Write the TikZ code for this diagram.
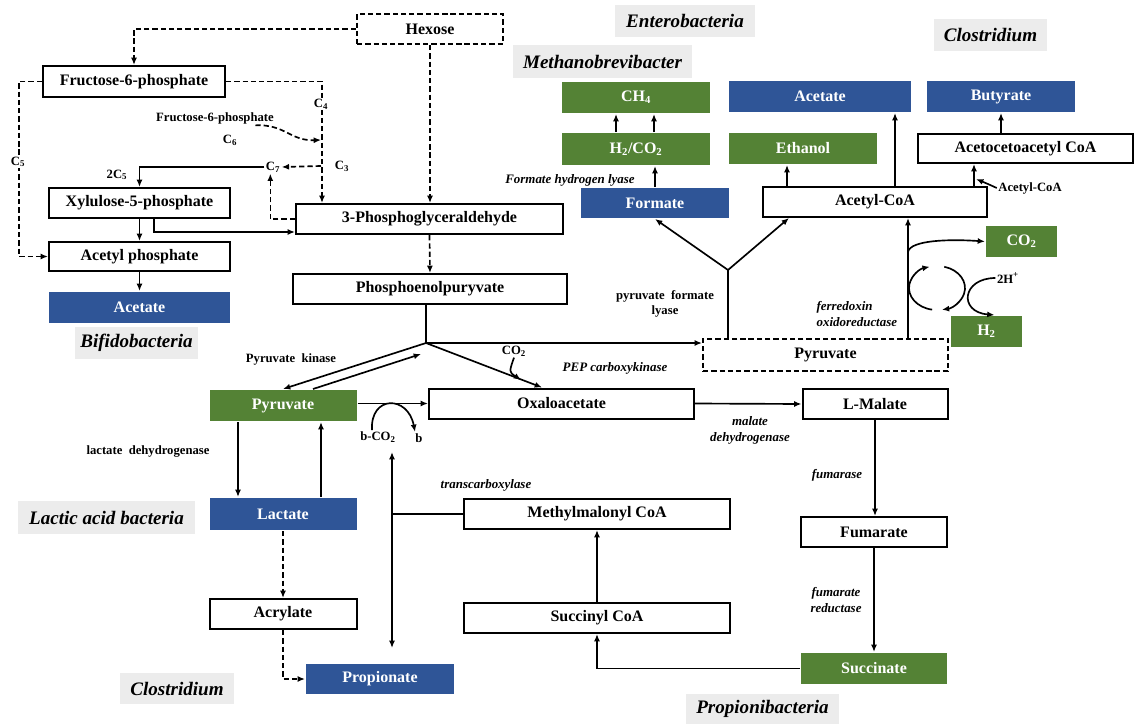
\documentclass[tikz,border=0pt]{standalone}
\usepackage{fontspec}
\setmainfont{Liberation Serif}
\usetikzlibrary{arrows.meta}
\definecolor{gbox}{RGB}{84,130,53}
\definecolor{bbox}{RGB}{47,85,151}
\definecolor{lgray}{RGB}{236,236,236}
\begin{document}
\begin{tikzpicture}[x=0.75pt,y=-0.75pt,
  wh/.style 2 args={minimum width=#1*0.75pt,minimum height=#2*0.75pt},
  box/.style={draw,line width=1.5pt,inner sep=0pt,font=\bfseries\fontsize{12}{14}\selectfont},
  gbx/.style={box,draw=none,fill=gbox,text=white},
  bbx/.style={box,draw=none,fill=bbox,text=white},
  dbx/.style={box,dash pattern=on 4pt off 2.2pt},
  tag/.style={fill=lgray,inner sep=0pt,font=\bfseries\itshape\fontsize{14.3}{16}\selectfont},
  sm/.style={inner sep=1pt,font=\bfseries\fontsize{9.5}{11}\selectfont},
  smi/.style={inner sep=1pt,font=\bfseries\itshape\fontsize{9.7}{12}\selectfont,align=center},
  arr/.style={line width=1.25pt,-{Latex[length=5.5pt,width=4.5pt]}},
  ln/.style={line width=1.25pt},
  dsh/.style={dash pattern=on 4pt off 2.2pt}
]
\useasboundingbox (0,0) rectangle (1135,724);

% ---------- boxes ----------
\node[dbx,wh={146}{30}] (hex) at (430,29) {Hexose};
\node[box,wh={182}{31}] (f6p) at (134,81.5) {Fructose-6-phosphate};
\node[box,wh={181}{30}] (xyl) at (139.5,203) {Xylulose-5-phosphate};
\node[box,wh={181}{29}] (acp) at (139.5,256.5) {Acetyl phosphate};
\node[bbx,wh={181}{31}] (acl) at (139.5,307.5) {Acetate};
\node[tag,wh={123}{32}] (bif) at (136.5,343) {Bifidobacteria};
\node[box,wh={267}{30}] (pga) at (429.5,219) {3-Phosphoglyceraldehyde};
\node[box,wh={274}{30}] (pep) at (430,289) {Phosphoenolpuryvate};
\node[tag,wh={179}{33}] (met) at (602.5,61.5) {Methanobrevibacter};
\node[tag,wh={140}{32}] (ent) at (685,21) {Enterobacteria};
\node[gbx,wh={148}{31}] (ch4) at (636,97.5) {CH\textsubscript{4}};
\node[gbx,wh={148}{32}] (h2co2) at (636,149) {H\textsubscript{2}/CO\textsubscript{2}};
\node[bbx,wh={148}{30}] (form) at (655,203) {Formate};
\node[bbx,wh={182}{31}] (acetR) at (820,96.5) {Acetate};
\node[bbx,wh={148}{31}] (but) at (1001,96.5) {Butyrate};
\node[gbx,wh={148}{31}] (eth) at (803,148.5) {Ethanol};
\node[box,wh={215}{29}] (aaca) at (1025.5,148.5) {Acetocetoacetyl CoA};
\node[box,wh={224}{30}] (acoa) at (875,202) {Acetyl-CoA};
\node[tag,wh={113}{32}] (clt) at (990.5,35) {Clostridium};
\node[gbx,wh={71}{31}] (co2) at (1021.5,241.5) {CO\textsubscript{2}};
\node[gbx,wh={71}{31}] (h2) at (986.5,331.5) {H\textsubscript{2}};
\node[dbx,wh={245}{32}] (pyrd) at (825.5,355) {Pyruvate};
\node[gbx,wh={147}{31}] (pyrg) at (283,405.5) {Pyruvate};
\node[box,wh={265}{30}] (oxa) at (561.5,403.5) {Oxaloacetate};
\node[box,wh={145}{30}] (mal) at (875,404) {L-Malate};
\node[box,wh={146}{30}] (fum) at (874,532) {Fumarate};
\node[gbx,wh={146}{31}] (suc) at (874,668.5) {Succinate};
\node[box,wh={266}{30}] (mmc) at (597,514) {Methylmalonyl CoA};
\node[box,wh={266}{30}] (sca) at (597,618) {Succinyl CoA};
\node[bbx,wh={147}{32}] (lac) at (283,514) {Lactate};
\node[box,wh={147}{30}] (acry) at (283,614) {Acrylate};
\node[bbx,wh={148}{30}] (prop) at (380,679) {Propionate};
\node[tag,wh={177}{33}] (lab) at (106.5,517.5) {Lactic acid bacteria};
\node[tag,wh={114}{31}] (clb) at (177,688.5) {Clostridium};
\node[tag,wh={153}{30}] (ppb) at (762.5,709) {Propionibacteria};

% ---------- small labels ----------
\node[sm] (f6ps) at (215,118) {Fructose-6-phosphate};
\node[sm] (c6) at (230,140) {C\textsubscript{6}};
\node[sm] (c7) at (273,167) {C\textsubscript{7}};
\node[sm] (c3) at (342,166) {C\textsubscript{3}};
\node[sm] (c25) at (117,175) {2C\textsubscript{5}};

% ---------- hexose / pentose part ----------
\coordinate (xr) at (322,0);
\coordinate (xl) at (19,0);
\draw[arr,dsh] (hex.west) -| (f6p.north);
\draw[arr,dsh] (hex.south) -- (hex.south |- pga.north);
\draw[arr,dsh] (f6p.east) -| (pga.north -| xr);
\draw[arr,dsh] (f6p.west) -| (xl |- acp.west) -- (acp.west);
\node[sm,fill=white] (c4) at (321,104) {C\textsubscript{4}};
\node[sm,fill=white] (c5) at (18,162) {C\textsubscript{5}};
\coordinate (c6t) at (321,140);
\draw[arr,dsh] ([xshift=-15pt]f6ps.south east) .. controls (285,124) and (290,141) .. (c6t);
\coordinate (c3t) at (321,166);
\draw[arr,dsh] (c3t) -- (c7.east);
\draw[arr] (c7.west) -| (xyl.north);
\draw[arr,dsh] (pga.west) -| ([xshift=-2pt]c7.south);
\draw[arr] (xyl.south) -- (acp.north);
\coordinate (xb) at (154,0);
\draw[arr] (xyl.south -| xb) |- ([yshift=2.25pt]pga.south west);
\draw[arr] (acp.south) -- (acl.north);
\draw[arr,dsh] (pga.south) -- (pep.north);

% ---------- PEP junction ----------
\coordinate (jn) at (426,343);
\draw[ln] (pep.south -| jn) -- (jn);
\draw[arr] (jn) -- (jn -| pyrd.west);
\draw[arr] (jn) -- (pyrg.north);
\coordinate (pk) at (421,354);
\draw[arr] ([xshift=22.5pt]pyrg.north) -- (pk);
\draw[arr] (jn) -- ([xshift=-14.6pt]oxa.north);
\node[sm] (co2s) at (514,351) {CO\textsubscript{2}};
\coordinate (co2e) at (521,380);
\draw[arr] (co2s.south) .. controls (509,372) .. (co2e);
\node[sm] at (291,359) {Pyruvate\ \ kinase};
\node[smi] at (615,368) {PEP carboxykinase};
\draw[arr] (pyrg.east |- oxa.west) -- (oxa.west);

% ---------- transcarboxylase ----------
\node[sm] (bco) at (378,437) {b-CO\textsubscript{2}};
\node[sm] (bb) at (419,438) {b};
\draw[arr] ([xshift=-4.5pt]bco.north) .. controls (370,395) and (408,395) .. ([xshift=-3pt]bb.north);
\coordinate (dt) at (392,452);
\coordinate (db) at (392,648);
\draw[line width=1.25pt,{Latex[length=5.5pt,width=4.5pt]}-{Latex[length=5.5pt,width=4.5pt]}] (dt) -- (db);
\draw[ln] (mmc.west -| dt) -- (mmc.west);
\node[smi] at (486,485) {transcarboxylase};

% ---------- lactate / acrylate ----------
\draw[arr] ([xshift=-33.75pt]pyrg.south) -- ([xshift=-33.75pt]lac.north);
\draw[arr] ([xshift=28.5pt]lac.north) -- ([xshift=28.5pt]pyrg.south);
\node[sm] at (148,451) {lactate\ \ dehydrogenase};
\draw[arr,dsh] (lac.south) -- (acry.north);
\draw[arr,dsh] (acry.south) |- (prop.west);

% ---------- succinate pathway ----------
\draw[arr] (oxa.east) -- (mal.west);
\node[smi] at (750,430) {malate\\dehydrogenase};
\draw[arr] (mal.south) -- (mal.south |- fum.north);
\node[smi] at (837,475) {fumarase};
\draw[arr] (fum.south) -- (fum.south |- suc.north);
\node[smi] at (836,600) {fumarate\\reductase};
\draw[arr] (suc.west) -| (sca.south);
\draw[arr] (sca.north) -- (mmc.south);

% ---------- pyruvate (dashed) ----------
\coordinate (yj) at (728,270);
\draw[ln] (pyrd.north -| yj) -- (yj);
\draw[arr] (yj) -- (form.south);
\draw[arr] (yj) -- ([xshift=-64.5pt]acoa.south);
\node[sm,align=center] at (665,304) {pyruvate\ \ formate\\lyase};
\coordinate (xv) at (908,300);
\draw[arr] (pyrd.north -| xv) -- (acoa.south -| xv);
\coordinate (cs) at (908,252);
\draw[arr] (cs) .. controls (910,240) and (950,239) .. (co2.west);
\coordinate (cyc) at (937,288);
\draw[arr] (cyc) ++(100:28 and 22) arc[start angle=100,end angle=255,x radius=28,y radius=22];
\draw[arr] (cyc) ++(-75:28 and 22) arc[start angle=-75,end angle=80,x radius=28,y radius=22];
\node[sm] (h2p) at (1008,278) {2H\textsuperscript{+}};
\draw[arr] (h2p.west) .. controls (962,278) and (958,312) .. ([xshift=6pt]h2.north);
\node[smi,align=left,anchor=west] at (815,314) {ferredoxin\\oxidoreductase};

% ---------- top products ----------
\draw[arr] (form.north) -- (form.north |- h2co2.south);
\draw[arr] ([xshift=-15pt]h2co2.north) -- ([xshift=-15pt]h2co2.north |- ch4.south);
\draw[arr] ([xshift=13.5pt]h2co2.north) -- ([xshift=13.5pt]h2co2.north |- ch4.south);
\node[smi] at (570,180) {Formate hydrogen lyase};
\draw[arr] ([xshift=-66pt]acoa.north) -- ([xshift=-66pt]acoa.north |- eth.south);
\draw[arr] ([xshift=15pt]acoa.north) -- ([xshift=15pt]acoa.north |- acetR.south);
\draw[arr] ([xshift=74.25pt]acoa.north) -- ([xshift=74.25pt]acoa.north |- aaca.south);
\draw[arr] (aaca.north -| but.south) -- (but.south);
\node[sm] (acs) at (1030,188) {Acetyl-CoA};
\coordinate (ace) at (976,179);
\draw[arr] (acs.west) .. controls (988,184) .. (ace);
\end{tikzpicture}
\end{document}
